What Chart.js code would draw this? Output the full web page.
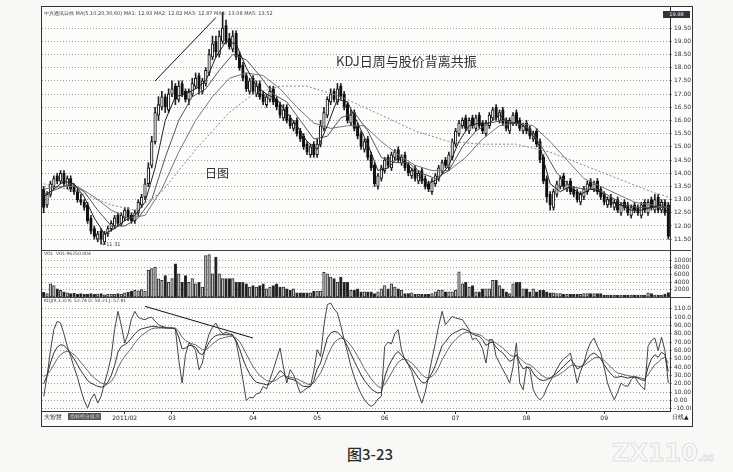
<!DOCTYPE html>
<html>
<head>
<meta charset="utf-8">
<script src="https://cdn.jsdelivr.net/npm/chart.js@4.4.0/dist/chart.umd.min.js"></script>
<style>
body{margin:0;background:#f8f8f6;width:733px;height:472px;overflow:hidden;position:relative;font-family:"DejaVu Sans",sans-serif}
#frame{position:absolute;left:41px;top:6px;width:650px;height:419px;border:1px solid #333;background:#fcfcfb}
canvas{position:absolute;left:42px}
.sep{position:absolute;left:42px;width:649px;height:1px;background:#444}
.t{position:absolute;white-space:nowrap;color:#444}
</style>
</head>
<body>
<div id="frame"></div>
<canvas id="main" width="649" height="243" style="top:7px"></canvas>
<div class="sep" style="top:250px"></div>
<canvas id="vol" width="649" height="46" style="top:251px"></canvas>
<div class="sep" style="top:297px"></div>
<canvas id="kdj" width="649" height="128" style="top:298px"></canvas>

<div class="t" style="left:44px;top:10px;font-size:5px">中兴通讯日线 MA(5,10,20,30,60) MA1: 12.93 MA2: 12.82 MA3: 12.87 MA4: 13.08 MA5: 13.52</div>
<div class="t" style="left:336px;top:51px;font:13px 'Noto Sans CJK SC';color:#333">KDJ日周与股价背离共振</div>
<div class="t" style="left:205px;top:164px;font:12px 'Noto Sans CJK SC';color:#333">日图</div>
<div class="t" style="left:102px;top:241px;font-size:5px">←11.31</div>
<div class="t" style="left:663px;top:11px;width:27px;height:7px;background:#333;color:#eee;font-size:5px;line-height:7px;text-align:center">19.98</div>
<div class="t" style="left:44px;top:251px;font-size:4.5px">VOL&nbsp; VOL:96250.004</div>
<div class="t" style="left:44px;top:298px;font-size:4.5px">KDJ(9,3,3) K: 52.74 D: 50.21 J: 57.81</div>
<div class="t" style="left:44px;top:413px;font-size:6px;color:#222">大智慧</div>
<div class="t" style="left:68px;top:413px;width:33px;height:7px;background:#555;color:#ddd;font-size:4.5px;line-height:7px;text-align:center">指标组合提示</div>
<div class="t" style="left:672px;top:413px;font-size:6px;color:#222">日线▲</div>
<div class="t" style="left:347px;top:443px;font:500 15px 'Noto Sans CJK SC';color:#2a2a2a">图3-23</div>
<div class="t" style="left:612px;top:439px;font:bold 24px 'DejaVu Sans';color:transparent;-webkit-text-stroke:1px #e0e0e0">ZX110<span style="font-size:10px">.cc</span></div>

<script>
const opens = [13.4,12.8,13.2,13.5,13.9,13.7,14.0,13.5,13.8,13.5,
  13.3,13.0,12.9,12.8,12.3,11.9,11.5,11.8,11.4,11.7,
  11.9,12.0,12.4,12.1,12.3,12.6,12.4,12.2,12.5,12.8,
  13.1,13.6,14.3,15.2,16.2,16.5,16.9,16.4,17.0,17.3,
  16.8,17.4,17.1,16.8,17.0,17.3,17.7,17.1,17.4,17.8,
  18.4,19.0,18.5,19.0,19.6,19.1,18.7,19.3,18.5,18.1,
  17.7,17.1,17.6,17.0,17.4,17.0,16.6,16.8,17.2,16.8,
  16.6,16.1,16.5,16.1,15.7,16.0,15.6,15.4,15.1,14.7,
  15.1,14.7,15.1,15.7,16.2,16.7,17.1,16.7,17.3,17.0,
  16.6,15.9,16.3,15.8,15.5,14.9,15.3,14.7,14.3,13.5,
  13.8,14.1,14.6,14.2,14.6,14.9,14.4,14.7,14.3,13.9,
  14.2,13.7,14.1,13.8,13.6,13.3,13.6,13.8,14.1,14.5,
  14.2,14.6,15.1,15.5,15.8,16.1,15.6,16.1,15.7,16.2,
  15.9,15.5,15.8,16.1,16.5,16.0,16.4,16.0,15.6,15.9,
  16.3,16.0,15.6,15.9,15.7,15.3,15.6,15.2,14.6,13.8,
  13.2,12.7,13.2,13.5,13.9,13.4,13.7,13.4,13.3,12.9,
  13.1,13.3,13.7,13.4,13.7,13.4,13.2,12.8,13.1,12.7,
  13.0,12.5,12.9,12.8,12.4,12.8,12.7,12.4,12.9,12.5,
  13.0,12.6,13.1,12.6,12.9,12.8];
const highs = [13.5,13.3,13.7,13.9,14.0,14.1,14.1,13.9,13.9,13.6,
  13.4,13.2,13.0,12.9,12.4,12.0,11.8,11.9,11.8,12.0,
  12.2,12.4,12.5,12.5,12.7,12.7,12.5,12.6,13.0,13.2,
  13.8,14.4,15.4,16.5,16.9,17.1,17.0,17.2,17.5,17.4,
  17.5,17.5,17.2,17.2,17.6,17.8,17.8,17.6,18.0,18.7,
  19.2,19.2,19.4,20.1,19.8,19.3,19.4,19.4,18.6,18.2,
  17.8,17.6,17.7,17.5,17.5,17.1,17.0,17.3,17.3,16.9,
  16.7,16.6,16.6,16.2,16.0,16.1,15.7,15.5,15.2,15.1,
  15.2,15.3,16.0,16.5,16.9,17.2,17.2,17.4,17.4,17.1,
  16.7,16.4,16.4,15.9,15.6,15.3,15.4,14.8,14.4,14.0,
  14.3,14.6,14.7,14.8,14.9,15.0,14.7,14.8,14.4,14.2,
  14.3,14.1,14.2,13.9,13.7,13.8,14.0,14.3,14.5,14.6,
  14.8,15.3,15.7,16.0,16.1,16.2,16.1,16.2,16.2,16.3,
  16.0,16.0,16.3,16.5,16.6,16.4,16.5,16.1,16.1,16.3,
  16.4,16.1,15.9,16.0,15.8,15.6,15.7,15.3,14.7,13.9,
  13.3,13.4,13.7,13.9,14.0,13.7,13.8,13.5,13.4,13.3,
  13.5,13.7,13.8,13.7,13.8,13.5,13.3,13.1,13.2,13.0,
  13.1,12.9,13.0,12.9,12.8,12.9,12.8,12.9,13.0,13.0,
  13.1,13.2,13.2,13.0,13.0,12.9];
const lows = [12.5,12.7,13.1,13.4,13.6,13.6,13.5,13.4,13.3,13.2,
  12.9,12.8,12.6,12.1,11.7,11.5,11.4,11.31,11.3,11.6,
  11.8,11.9,12.0,12.0,12.2,12.2,12.1,12.1,12.4,12.7,
  13.0,13.5,14.2,15.1,16.0,16.4,16.3,16.3,16.9,16.6,
  16.7,16.9,16.7,16.6,16.9,17.2,17.0,17.0,17.3,17.7,
  18.3,18.4,18.4,18.9,18.9,18.7,18.6,18.3,17.9,17.5,
  17.1,17.0,17.0,16.9,16.8,16.6,16.5,16.7,16.6,16.4,
  16.1,16.0,15.9,15.7,15.6,15.4,15.2,14.9,14.7,14.6,
  14.6,14.6,15.0,15.6,16.1,16.6,16.7,16.6,16.8,16.4,
  15.9,15.8,15.6,15.3,14.9,14.8,14.5,14.1,13.5,13.4,
  13.7,14.0,14.2,14.1,14.5,14.4,14.3,14.1,13.9,13.8,
  13.7,13.6,13.6,13.4,13.3,13.2,13.5,13.7,14.0,14.2,
  14.1,14.5,15.0,15.4,15.7,15.6,15.5,15.7,15.6,15.7,
  15.5,15.4,15.7,16.0,16.0,15.9,15.8,15.6,15.5,15.8,
  15.8,15.6,15.5,15.5,15.3,15.2,15.0,14.4,13.6,12.9,
  12.6,12.6,13.1,13.4,13.4,13.3,13.2,13.1,12.9,12.8,
  13.0,13.2,13.4,13.3,13.2,13.0,12.8,12.7,12.7,12.6,
  12.5,12.4,12.6,12.4,12.3,12.5,12.4,12.3,12.5,12.4,
  12.6,12.5,12.5,12.5,12.4,11.5];
const closes = [12.7,13.2,13.6,13.8,13.7,14.0,13.6,13.8,13.4,13.3,
  13.0,12.9,12.7,12.2,11.8,11.6,11.7,11.5,11.7,11.9,
  12.1,12.3,12.1,12.4,12.6,12.3,12.2,12.5,12.9,13.1,
  13.6,14.2,15.2,16.3,16.6,16.9,16.5,17.0,17.2,16.8,
  17.3,17.0,16.8,17.1,17.4,17.6,17.2,17.5,17.9,18.5,
  18.9,18.6,19.2,19.5,19.0,18.8,19.2,18.4,18.0,17.6,
  17.2,17.5,17.1,17.3,16.9,16.7,16.9,17.1,16.7,16.5,
  16.2,16.4,16.0,15.8,15.9,15.5,15.3,15.0,14.8,15.0,
  14.7,15.1,15.8,16.3,16.8,17.0,16.8,17.2,16.9,16.5,
  16.0,16.2,15.7,15.4,15.0,15.2,14.6,14.2,13.6,13.9,
  14.2,14.5,14.3,14.7,14.8,14.5,14.6,14.2,14.0,14.1,
  13.8,14.0,13.7,13.5,13.4,13.7,13.9,14.2,14.4,14.3,
  14.7,15.2,15.6,15.9,16.0,15.7,16.0,15.8,16.1,15.8,
  15.6,15.9,16.2,16.4,16.1,16.3,15.9,15.7,16.0,16.2,
  15.9,15.7,15.8,15.6,15.4,15.5,15.1,14.5,13.7,13.1,
  12.8,13.3,13.6,13.8,13.5,13.6,13.3,13.2,13.0,13.2,
  13.4,13.6,13.5,13.6,13.3,13.1,12.9,13.0,12.8,12.9,
  12.6,12.8,12.7,12.5,12.7,12.6,12.5,12.8,12.6,12.9,
  12.7,13.0,12.6,12.9,12.5,11.6];
const volumes = [1300,900,3600,3100,2200,1800,1400,1100,900,1000,
  800,900,700,800,900,700,800,900,600,700,
  800,700,900,800,1100,1300,1600,1800,1700,2000,
  1600,7200,7700,8100,4900,4500,5800,4000,5000,9000,
  6300,4000,5800,4000,5000,3600,4000,2700,11200,11500,
  6300,10800,6300,5000,5000,5000,5000,4000,4000,4000,
  3600,2700,3100,2700,3100,3600,2200,2700,3100,3600,
  2700,2700,2200,1800,2200,1100,1100,1100,1100,1100,
  1600,1600,1600,6700,6300,5400,5000,4000,5400,4000,
  4000,1800,1800,2200,1400,1400,1400,1400,900,1400,
  2200,3100,2200,3600,2700,2200,1800,900,900,1100,
  700,700,700,700,700,900,1400,1800,1800,1400,
  1400,1400,1800,6800,3600,4000,2700,3100,1400,1400,
  2200,2200,2200,4500,4500,3100,2200,1400,900,3600,
  4000,4000,2200,2200,1400,2200,1400,1800,1800,1400,
  1100,1100,900,900,700,700,700,700,700,700,
  900,900,900,900,900,900,500,500,500,500,
  500,500,500,500,500,500,500,500,500,1100,
  900,500,500,500,800,1200];
const kLine = [20,30,45,57,64,67,66,62,56,50,43,36,30,24,21,19,17,16,17,22,
  30,42,58,65,67,70,75,80,84,86,87,88,89,89,88,88,87,87,87,86,
  76,62,63,66,66,64,57,55,62,70,75,78,79,79,79,79,78,72,62,50,
  40,32,26,22,21,20,19,20,24,30,36,33,27,26,25,23,19,17,17,17,
  24,38,45,60,75,81,83,82,78,73,65,56,47,39,31,24,19,14,11,9,
  10,28,40,48,55,59,54,50,44,39,33,27,22,21,26,33,42,54,66,70,
  76,80,82,84,86,85,83,80,78,77,73,66,69,70,64,60,57,52,47,49,
  55,45,38,40,40,33,28,25,24,25,27,30,33,37,41,45,49,45,38,40,
  44,50,55,57,54,50,43,37,32,28,28,29,28,27,28,28,27,25,24,40,
  50,55,52,58,55,35];
const dLine = [29,31,36,43,50,55,58,59,58,55,51,46,41,36,31,27,24,21,20,20,
  23,29,39,47,53,58,63,69,74,78,81,84,86,87,87,87,87,87,87,87,
  83,76,72,70,68,67,64,61,61,64,68,71,74,75,76,77,77,75,71,64,
  56,48,41,35,30,27,24,23,23,25,28,30,29,28,27,26,24,22,20,19,
  21,27,33,42,53,62,69,73,75,74,71,66,60,53,46,38,32,26,21,17,
  15,19,26,33,40,46,49,50,48,45,41,36,31,28,27,29,33,40,49,56,
  63,69,73,77,80,82,82,81,80,79,77,73,72,71,69,66,63,59,55,53,
  54,51,47,44,43,40,36,32,29,27,27,28,30,32,35,38,42,43,41,41,
  42,45,48,51,52,51,48,44,40,36,33,32,31,30,29,29,28,27,26,31,
  37,43,46,50,52,45];
const jLine = [5,29,60,85,95,93,80,65,53,40,28,13,0,-9,2,8,-3,5,21,35,
  53,85,107,90,69,80,98,107,100,98,97,99,100,95,91,89,88,87,87,86,
  49,21,55,69,66,60,37,45,66,80,88,93,85,80,82,80,79,70,49,25,
  0,4,3,8,9,17,14,25,37,50,63,40,21,37,31,20,9,12,15,17,
  35,61,53,90,115,117,110,105,90,73,58,41,28,17,8,1,-4,-7,-4,2,
  5,65,70,68,80,85,60,49,43,35,21,8,-3,10,29,50,69,90,107,91,
  96,101,99,98,97,91,85,73,75,70,62,45,73,73,53,45,37,30,21,40,
  69,21,13,41,37,13,5,1,5,15,23,30,38,45,50,53,57,40,21,35,
  45,60,70,75,65,57,40,21,10,1,10,21,18,17,25,29,22,17,13,65,
  72,75,60,76,60,21];

// moving averages read at sample days: [day, value]
const ma5 = [[0,13.1],[3,13.4],[6,13.7],[9,13.6],[12,13.1],[15,12.3],[18,11.7],[21,11.9],[24,12.2],[27,12.4],
  [30,12.9],[33,14.2],[36,16.0],[39,16.9],[42,17.0],[45,17.2],[48,17.5],[51,18.4],[54,19.0],[57,18.9],
  [60,18.0],[63,17.3],[66,17.0],[69,16.8],[72,16.3],[75,15.8],[78,15.2],[81,14.9],[84,15.8],[87,16.8],
  [90,16.7],[93,15.9],[96,15.1],[99,14.1],[102,14.2],[105,14.6],[108,14.3],[111,13.9],[114,13.6],[117,13.8],
  [120,14.3],[123,15.2],[126,15.8],[129,15.9],[132,15.9],[135,16.2],[138,15.9],[141,15.9],[144,15.6],[147,15.0],
  [150,13.6],[153,13.3],[156,13.5],[159,13.2],[162,13.4],[165,13.3],[168,12.9],[171,12.8],[174,12.6],[177,12.6],
  [180,12.7],[183,12.8],[185,12.5]];
const ma10 = [[0,13.2],[4,13.4],[8,13.6],[12,13.3],[16,12.6],[20,12.0],[24,12.0],[28,12.3],[32,13.0],[36,14.6],
  [40,16.0],[44,16.9],[48,17.2],[52,17.9],[56,18.5],[60,18.3],[64,17.7],[68,17.0],[72,16.7],[76,16.0],
  [80,15.3],[84,15.4],[88,16.1],[92,16.3],[96,15.6],[100,14.6],[104,14.4],[108,14.4],[112,14.0],[116,13.8],
  [120,14.1],[124,15.0],[128,15.6],[132,15.9],[136,16.0],[140,15.9],[144,15.7],[148,14.9],[152,14.0],[156,13.5],
  [160,13.4],[164,13.4],[168,13.1],[172,12.8],[176,12.7],[180,12.7],[185,12.7]];
const ma20 = [[0,13.4],[5,13.5],[10,13.5],[15,13.1],[20,12.6],[25,12.3],[30,12.4],[35,13.4],[40,14.8],[45,16.0],
  [50,16.9],[55,17.6],[60,17.8],[65,17.7],[70,17.2],[75,16.5],[80,15.9],[85,15.7],[90,15.8],[95,15.8],
  [100,15.2],[105,14.7],[110,14.3],[115,14.1],[120,14.1],[125,14.6],[130,15.3],[135,15.8],[140,15.9],[145,15.8],
  [150,15.2],[155,14.5],[160,13.8],[165,13.5],[170,13.2],[175,12.9],[180,12.8],[185,12.7]];
const ma60 = [[0,13.6],[10,13.3],[20,12.8],[27,12.6],[35,13.3],[45,14.9],[55,16.3],[62,17.0],[70,17.3],[78,17.3],
  [88,16.9],[100,16.2],[110,15.6],[120,15.2],[130,15.1],[140,15.1],[150,14.8],[160,14.3],[170,13.8],[180,13.3],[185,13.1]];

// hand-drawn trend lines: [day, value]
const priceTrend = [[33,17.5],[51,19.9]];
const kdjTrend = [[30,113],[62,75]];

const priceTicks = [11.5,12,12.5,13,13.5,14,14.5,15,15.5,16,16.5,17,17.5,18,18.5,19,19.5];
const volTicks = [2000,4000,6000,8000,10000];
const kdjTicks = [-10,0,10,20,30,40,50,60,70,80,90,100,110];
const monthTickIdx = [24,38,62,81,101,122,143,166];
const monthTickText = ['2011/02','03','04','05','06','07','08','09'];

const N = closes.length;
const days = closes.map((_, i) => String(i));
function sparse(pairs) {
  const a = new Array(N).fill(null);
  pairs.forEach(p => { a[p[0]] = p[1]; });
  return a;
}
function fixY(w, ticks) {
  return {
    afterFit: s => { s.width = w; s.paddingTop = 0; s.paddingBottom = 0; },
    afterBuildTicks: s => { s.ticks = ticks.map(v => ({ value: v })); }
  };
}
Chart.defaults.font.family = 'DejaVu Sans';
Chart.defaults.font.size = 6;
Chart.defaults.color = '#333';

const up = closes.map((c, i) => c >= opens[i]);
const baseOpts = {
  responsive: false, animation: false, devicePixelRatio: 1,
  layout: { padding: 0 },
  plugins: { legend: { display: false }, tooltip: { enabled: false } }
};
const hiddenX = { offset: true, display: false };
function yAxis(min, max, ticks, fmt) {
  return Object.assign({
    position: 'right', min: min, max: max,
    grid: { color: '#9a9a9a', tickLength: 2 },
    border: { display: true, color: '#333', dash: [1, 2] },
    ticks: { padding: 2, color: '#333', autoSkip: false, callback: fmt }
  }, fixY(21, ticks));
}
function line(data, color, w, dash) {
  return { type: 'line', data: data, borderColor: color, borderWidth: w, borderDash: dash || [],
    pointRadius: 0, spanGaps: true, order: 1 };
}

new Chart(document.getElementById('main'), {
  type: 'bar',
  data: {
    labels: days,
    datasets: [
      { data: highs.map((h, i) => [lows[i], h]), backgroundColor: '#222', barThickness: 1, grouped: false, order: 3 },
      { data: opens.map((o, i) => [o, closes[i]]), backgroundColor: up.map(u => u ? '#fafafa' : '#111'),
        borderColor: '#111', borderWidth: 1, borderSkipped: false, barThickness: 2.6, grouped: false, order: 2 },
      line(sparse(ma5), '#222', 1),
      line(sparse(ma10), '#555', 1),
      line(sparse(ma20), '#777', 1),
      line(sparse(ma60), '#8a8a8a', 1, [2, 2]),
      line(sparse(priceTrend), '#111', 1)
    ]
  },
  options: Object.assign({}, baseOpts, {
    scales: { x: hiddenX, y: yAxis(11.09, 20.3, priceTicks, v => v.toFixed(2)) }
  })
});

new Chart(document.getElementById('vol'), {
  type: 'bar',
  data: {
    labels: days,
    datasets: [{ data: volumes, backgroundColor: up.map(u => u ? '#c4c4c4' : '#1a1a1a'),
      borderColor: '#333', borderWidth: 1, borderSkipped: false, barThickness: 2.6 }]
  },
  options: Object.assign({}, baseOpts, {
    scales: { x: hiddenX, y: yAxis(0, 12460, volTicks, v => String(v)) }
  })
});

new Chart(document.getElementById('kdj'), {
  type: 'line',
  data: {
    labels: days,
    datasets: [
      line(kLine, '#333', 1),
      line(dLine, '#666', 1),
      line(jLine, '#444', 1),
      line(sparse(kdjTrend), '#111', 1)
    ]
  },
  options: Object.assign({}, baseOpts, {
    scales: {
      x: {
        offset: true,
        grid: { drawOnChartArea: false, tickLength: 3, offset: false,
          color: c => monthTickIdx.includes(c.index) ? '#333' : 'rgba(0,0,0,0)' },
        border: { display: true, color: '#333' },
        ticks: { autoSkip: false, maxRotation: 0, padding: 1, color: '#222',
          callback: (v, i) => { const k = monthTickIdx.indexOf(i); return k < 0 ? '' : monthTickText[k]; } },
        afterFit: s => { s.height = 15; s.paddingLeft = 0; s.paddingRight = 0; }
      },
      y: yAxis(-12.5, 123, kdjTicks, v => v.toFixed(2))
    }
  })
});
</script>
</body>
</html>
